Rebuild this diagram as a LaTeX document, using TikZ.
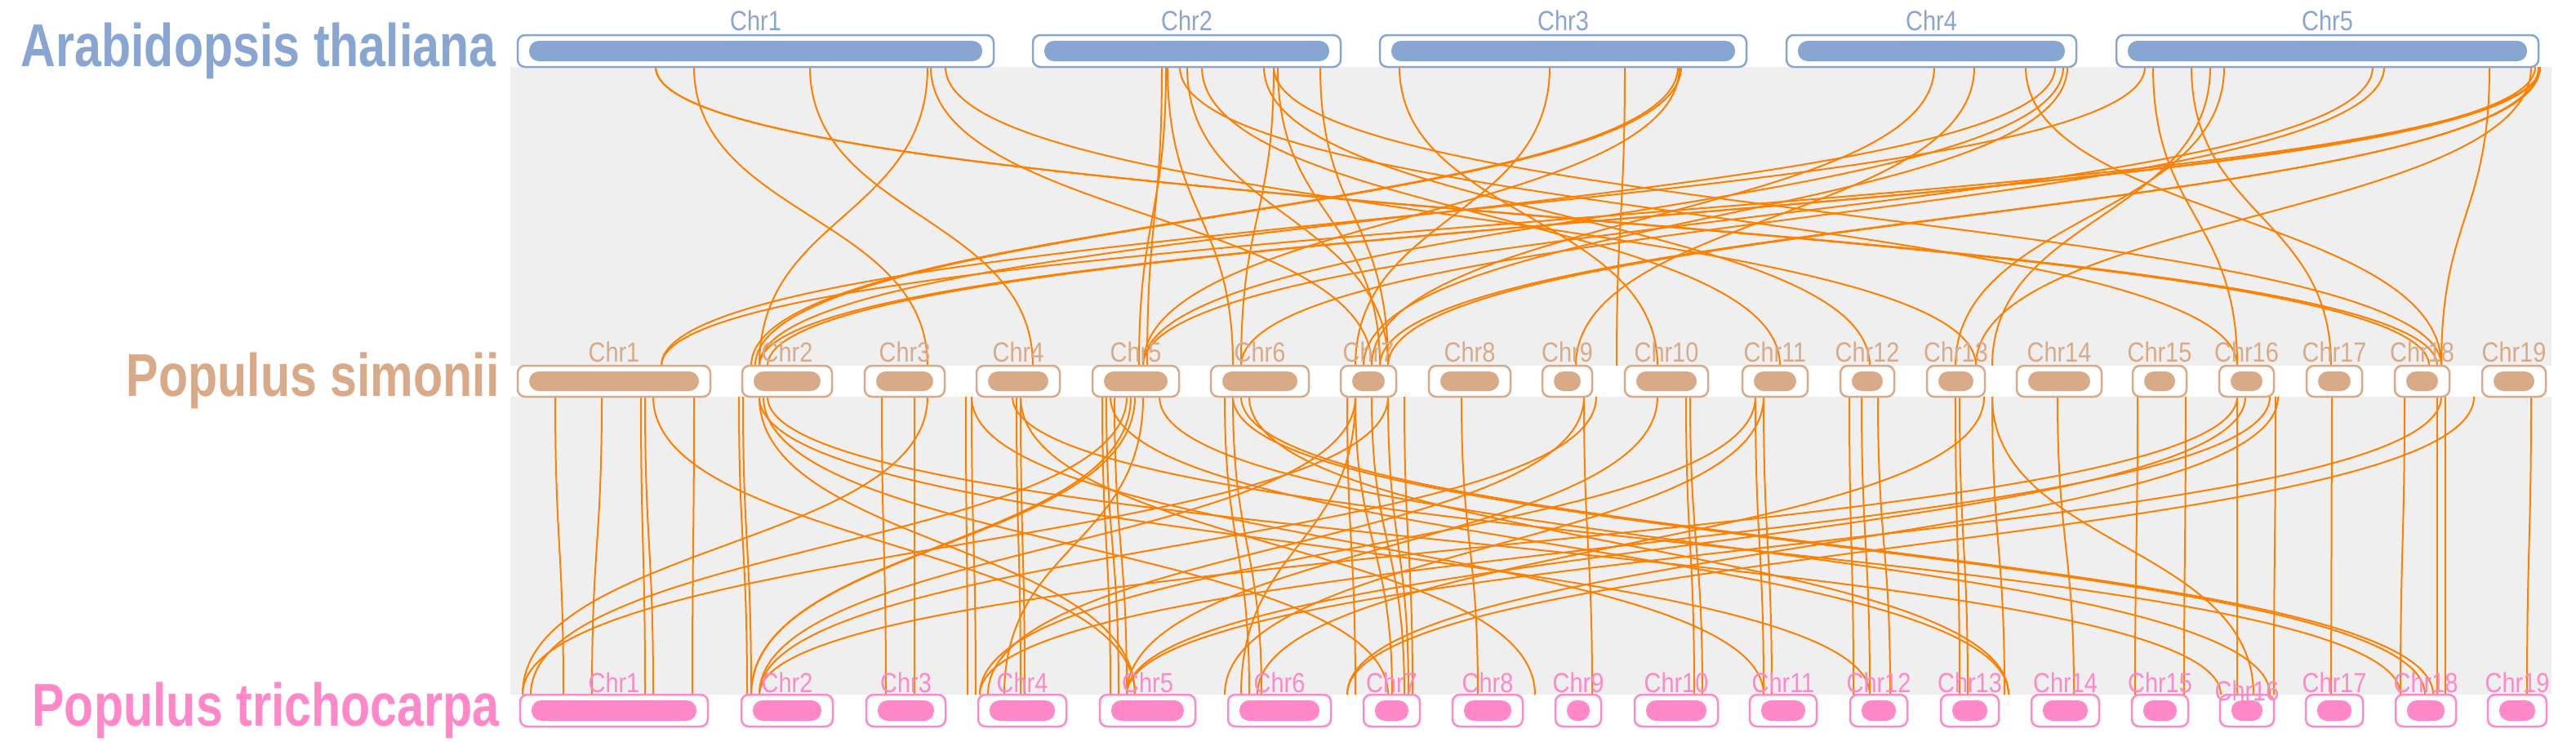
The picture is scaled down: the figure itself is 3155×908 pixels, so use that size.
\documentclass[tikz,border=0pt]{standalone}
\usepackage{fontspec}
\setmainfont{Liberation Sans}
\usepackage{graphicx}
\definecolor{atc}{HTML}{89A5D2}
\definecolor{psc}{HTML}{D9AA88}
\definecolor{ptc}{HTML}{FF88C8}
\definecolor{lnk}{HTML}{FF8000}
\definecolor{bg}{HTML}{EFEFEF}
\begin{document}
\begin{tikzpicture}[x=1pt,y=-1pt,
  lk/.style={draw=lnk,line width=2pt},
  outer/.style={fill=white,line width=2.5pt,rounded corners=9pt},
  chl/.style={font=\fontsize{34}{34}\selectfont,inner sep=0pt},
  sp/.style={font=\fontsize{74}{74}\selectfont\bfseries,anchor=east,inner sep=0pt}]
\useasboundingbox (0,0) rectangle (3155,908);
% grey background ribbons
\fill[bg] (625,82) rectangle (3125,448);
\fill[bg] (625,486) rectangle (3125,851);
% top band links
\foreach \a/\b in {803/2975,803/2985,850/1136,992/1265,1136/930,1158/2420,1423/1405,1428/1395,1454/1700,1472/2180,1548/2290,1560/1520,1565/1690,1617/1700,1714/2030,1898/1660,2055/920,2059/925,2057/1400,2369/1680,2418/1930,2481/2990,2517/930,2527/1400,2532/1670,2627/810,2637/2740,2684/2855,2707/2440,2724/2395,2906/1400,2920/1520,3049/2990,3111/810,3111/930,3111/1690,3109/1700,3105/940,3100/2420,1445/2740,1430/1510,1140/1680,1560/2990,1990/1980}
  \draw[lk] (\a,82) .. controls (\a,265) and (\b,265) .. (\b,448);
% bottom band links
\foreach \a/\b in {680/690,737/725,785/790,790/800,850/848,905/915,910/920,1080/1085,1120/1120,1183/1185,1190/1195,1245/1250,1250/1255,1350/1360,1355/1370,1365/1380,1500/1530,1510/1545,1650/1660,1660/1705,1680/1720,1700/1725,1720/1730,1790/1810,1940/1950,2065/2075,2070/2085,2150/2160,2160/2170,2265/2270,2280/2290,2300/2315,2395/2400,2400/2410,2440/2455,2520/2540,2618/2615,2677/2675,2740/2740,2787/2785,2856/2855,2945/2940,2985/2985,2995/2995,3100/3095,800/1390,930/1390,935/1700,930/2290,940/2720,1136/640,1190/2160,1250/1880,1380/650,1385/920,1390/920,1400/1230,1420/2780,1510/2970,1520/2980,1530/2460,1660/930,1660/1520,1700/640,1940/1210,1955/930,2030/1380,2150/1200,2160/1500,2430/1540,2440/2760,2740/930,2750/1380,2780/1200,2790/1650,2990/1380,3030/1650,1240/2940,1360/2460}
  \draw[lk] (\a,486) .. controls (\a,668) and (\b,668) .. (\b,851);
% chromosomes
\newcommand{\chrom}[8]{%
  \draw[outer,draw=#5] (#1,#3) rectangle (#2,#4);
  \fill[#5,rounded corners=12pt] (#1+14,#3+7) rectangle (#2-14,#4-7);
  \node[chl,text=#5,anchor=base] (#6) at ({(#1+#2)/2},#7) {\scalebox{0.85}[1]{#8}};}
\foreach \a/\b/\n in {634/1217/1,1265/1642/2,1690/2139/3,2188/2543/4,2592/3109/5}
  {\chrom{\a}{\b}{43}{82}{atc}{at\n}{37}{Chr\n}}
\foreach \a/\b/\n in {634/870/1,909/1019/2,1059/1157/3,1196/1298/4,1338/1444/5,1483/1603/6,1642/1710/7,1750/1850/8,1889/1950/9,1990/2092/10,2134/2214/11,2254/2320/12,2360/2431/13,2470/2574/14,2612/2678/15,2718/2785/16,2825/2893/17,2933/3000/18,3040/3118/19}
  {\chrom{\a}{\b}{448}{486}{psc}{ps\n}{443}{Chr\n}}
\foreach \a/\b/\n/\ly in {637/867/1/848,908/1020/2/848,1061/1158/3/848,1198/1306/4/848,1347/1464/5/848,1504/1630/6/848,1670/1739/7/848,1779/1865/8/848,1905/1961/9/848,2002/2104/10/848,2143/2225/11/848,2266/2336/12/848,2377/2448/13/848,2488/2571/14/848,2611/2680/15/848,2719/2785/16/858,2824/2894/17/848,2934/3008/18/848,3047/3119/19/848}
  {\chrom{\a}{\b}{851}{890}{ptc}{pt\n}{\ly}{Chr\n}}
% species labels
\node[sp,text=atc] (spat) at (608,62) {\scalebox{0.8}[1]{Arabidopsis thaliana}};
\node[sp,text=psc] (spps) at (612,466) {\scalebox{0.8}[1]{Populus simonii}};
\node[sp,text=ptc] (sppt) at (612,870) {\scalebox{0.8}[1]{Populus trichocarpa}};
\end{tikzpicture}
\end{document}
